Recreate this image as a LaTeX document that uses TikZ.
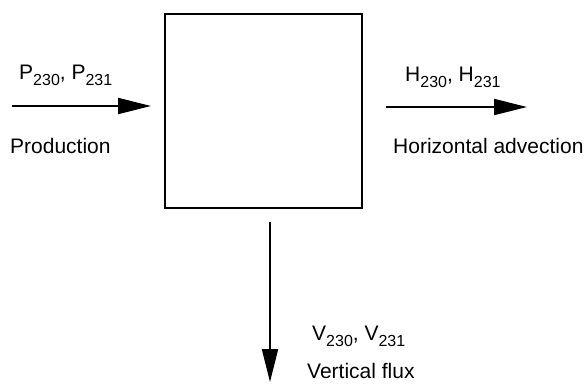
\documentclass[tikz,border=0pt]{standalone}
\usepackage{fontspec}
\setmainfont{Liberation Sans}
\usepackage{tikz}
\usetikzlibrary{arrows.meta, positioning}
\newcommand\isotope[1]{\raisebox{-6pt}{\fontsize{16}{18}\selectfont #1}}
\tikzset{
  flux/.style={line width=2pt, -{Triangle[length=33pt,width=16pt]}},
  fluxlabel/.style={anchor=base west, inner sep=0pt}
}

\begin{document}
\begin{tikzpicture}[x=1pt, y=-1pt, font=\fontsize{21}{25}\selectfont]
  \useasboundingbox (0,0) rectangle (585,384);
  % box
  \node[draw, line width=2pt, inner sep=0pt, minimum width=197pt,
        minimum height=194pt] (cell) at (263.5,111) {};
  % production
  \coordinate (prodtail) at (12,106);
  \draw[flux, shorten >=13pt] (prodtail) -- (prodtail -| cell.west);
  \node[fluxlabel] (prodsym) at (19,79) {P\isotope{230}, P\isotope{231}};
  \node[fluxlabel] (prodtext) at (10,153) {Production};
  % horizontal advection
  \coordinate (advhead) at (527,107);
  \draw[flux, shorten <=23pt] (advhead -| cell.east) -- (advhead);
  \node[fluxlabel] (advsym) at (405,81) {H\isotope{230}, H\isotope{231}};
  \node[fluxlabel] (advtext) at (393,153) {Horizontal advection};
  % vertical flux
  \coordinate (vfhead) at (270,382);
  \draw[flux, shorten <=13pt] (vfhead |- cell.south) -- (vfhead);
  \node[fluxlabel] (vfsym) at (312,340) {V\isotope{230}, V\isotope{231}};
  \node[fluxlabel] (vftext) at (307,378) {Vertical flux};
\end{tikzpicture}
\end{document}
